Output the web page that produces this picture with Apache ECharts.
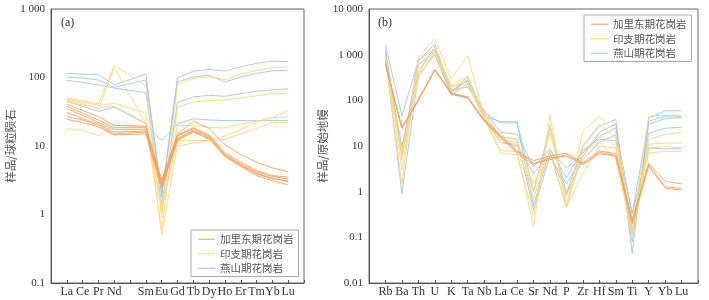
<!DOCTYPE html>
<html><head><meta charset="utf-8">
<script src="https://cdn.jsdelivr.net/npm/echarts/dist/echarts.min.js"></script>
<style>html,body{margin:0;padding:0;background:#fff}#c{width:709px;height:300px}</style>
</head><body><div id="c"></div><script>
// ---------- Categories ----------
var reeElems = ['La','Ce','Pr','Nd','Pm','Sm','Eu','Gd','Tb','Dy','Ho','Er','Tm','Yb','Lu'];
var traceElems = ['Rb','Ba','Th','U','K','Ta','Nb','La','Ce','Sr','Nd','P','Zr','Hf','Sm','Ti','Y','Yb','Lu'];
var groupNames = ['加里东期花岗岩','印支期花岗岩','燕山期花岗岩'];
var yTicksA = [0.1, 1, 10, 100, 1000];
var yTicksB = [0.01, 0.1, 1, 10, 100, 1000, 10000];

// ---------- (a) chondrite-normalised REE ----------
var calREE1 = [41, 33, 27, 20, null, 19.5, 3.2, 15, 23, 18, 10.5, 7.5, 5.8, 4.8, 4.2];
var calREE2 = [38, 30, 24, 18.5, null, 18.5, 3.0, 14.5, 18.5, 14.5, 8.0, 5.8, 4.4, 3.7, 3.5];
var calREE3 = [35, 28, 22, 17.5, null, 17.5, 2.8, 14, 18, 14, 7.6, 5.5, 4.2, 3.6, 3.3];
var calREE4 = [31, 25, 21, 16, null, 16.5, 2.6, 13, 17, 13.5, 7.3, 5.3, 4.0, 3.4, 3.0];
var calREE5 = [24.5, 22, 19, 14.5, null, 15, 2.4, 12.5, 16.5, 13, 7.0, 5.0, 3.7, 3.1, 2.7];
var calREE6 = [27, 24, 20, 15, null, 16, 2.5, 12, 16, 12.5, 7.2, 5.2, 3.9, 3.3, 3.1];

var indREE1 = [50, 46, 41, 152, null, 75, 0.9, 80, 97, 102, 93, 112, 126, 140, 143];
var indREE2 = [47, 42, 34, 140, null, 21, 0.6, 37, 44, 46, 47, 50, 54, 58, 59];
var indREE3 = [44, 40, 36, 38, null, 22, 1.1, 20, 19.8, 18.7, 18.3, 21, 23, 26, 26.5];
var indREE4 = [17.8, 17, 14, 20, null, 19, 1.3, 12, 12, 12, 14, 17.5, 22, 26, 33];
var indREE5 = [48, 44, 39, 42, null, 30, 0.5, 10, 11, 12, 12.5, 15, 18, 22, 22];

var yanREE1 = [115, 112, 110, 78, null, 112, 2.0, 99, 124, 131, 124, 143, 161, 174, 170];
var yanREE2 = [102, 98, 92, 72, null, 92, 1.8, 86, 102, 108, 86, 102, 115, 125, 128];
var yanREE3 = [91, 85, 78, 70, null, 60, 1.4, 43, 52, 55, 53, 58, 63, 66, 68];
var yanREE4 = [45, 38, 32, 37, null, 21, 12, 21, 25, 24, 23.5, 23.5, 23.5, 23.5, 23.5];

// ---------- (b) primitive-mantle-normalised trace elements ----------
var calTr1 = [620, 25, 100, 470, 140, 115, 38, 17.5, 8.0, 4.2, 5.0, 6.5, 3.9, 7.2, 6.2, 0.22, 4.2, 1.7, 1.48];
var calTr2 = [650, 24, 105, 480, 145, 118, 36, 16, 7.5, 4.8, 6.0, 7.0, 4.3, 7.8, 6.8, 0.25, 3.9, 1.28, 1.17];
var calTr3 = [600, 26, 98, 460, 135, 112, 35, 15, 7.0, 3.9, 5.5, 6.0, 4.0, 6.8, 6.0, 0.2, 3.6, 1.2, 1.08];

var indTr1 = [850, 1.5, 860, 2200, 300, 950, 45, 8, 7.5, 0.17, 48, 0.46, 21, 45, 20, 0.14, 45, 47, 47];
var indTr2 = [1000, 5, 400, 1500, 200, 250, 40, 7, 6.5, 0.3, 30, 0.5, 10, 30, 15, 0.15, 14, 18, 20];
var indTr3 = [700, 8, 300, 1200, 180, 300, 50, 16, 14, 1.0, 20, 0.8, 6, 18, 10, 0.09, 11, 11.6, 11.6];
var indTr4 = [900, 3, 500, 1000, 160, 200, 55, 14, 12, 1.5, 7, 0.46, 2.5, 10, 9, 0.2, 7, 7.6, 7.6];
var indTr5 = [800, 7, 600, 1100, 210, 350, 45, 12, 11, 0.7, 8, 0.46, 8, 12, 5.0, 0.13, 9, 9.8, 9];

var yanTr1 = [1680, 45, 740, 1700, 150, 330, 45, 34, 34, 1.0, 26, 0.92, 9.8, 27, 38, 0.045, 40, 59, 59];
var yanTr2 = [1130, 8, 780, 1300, 160, 270, 55, 32, 32, 0.5, 8, 3.3, 7, 16, 25, 0.33, 35, 45, 45];
var yanTr3 = [950, 0.92, 350, 1000, 130, 230, 40, 12, 10, 2.5, 7, 0.92, 5, 12, 17.6, 0.12, 19, 24.5, 25.7];
var yanTr4 = [800, 10, 400, 1500, 170, 195, 60, 20, 18, 3.5, 8.5, 2, 8, 14, 13, 0.33, 9, 8.7, 8.7];
var yanTr5 = [1350, 6, 600, 1200, 145, 280, 50, 16, 14, 0.4, 6, 1.5, 6, 20, 30, 0.08, 30, 40, 42];

var groupColors = ['rgba(245,160,92,0.88)', 'rgba(253,214,122,0.9)', 'rgba(160,198,232,0.9)'];

var panelA = [[calREE1,calREE2,calREE3,calREE4,calREE5,calREE6],[indREE1,indREE2,indREE3,indREE4,indREE5],[yanREE1,yanREE2,yanREE3,yanREE4]];
var panelB = [[calTr1,calTr2,calTr3],[indTr1,indTr2,indTr3,indTr4,indTr5],[yanTr1,yanTr2,yanTr3,yanTr4,yanTr5]];

function pad(arr){ return [null].concat(arr).concat([null]); }
var serif = 'Liberation Serif, Times New Roman, serif';
var cjk = 'Noto Sans CJK SC';

function fmt(v){
  var s = String(+v.toPrecision(6));
  if (v >= 1000) s = s.replace(/\B(?=(\d{3})+(?!\d))/g, ' ');
  return s;
}

var series = [];
[panelA, panelB].forEach(function(panel, pi){
  [0,1,2].forEach(function(g){
    panel[g].forEach(function(vals){
      series.push({
        type:'line', name: groupNames[g], xAxisIndex: pi, yAxisIndex: pi,
        data: pad(vals), connectNulls: true, symbol:'none', showSymbol:false, silent:true,
        z: 3 - g,
        lineStyle:{color: groupColors[g], width: 1},
        itemStyle:{color: groupColors[g]}
      });
    });
  });
});

function xAx(cats, gi, hide){
  return {
    type:'category', gridIndex: gi, boundaryGap:false,
    data: [''].concat(cats).concat([' ']),
    axisLine:{lineStyle:{color:'#555', width:1}},
    axisTick:{inside:true, length:3, interval:0, lineStyle:{color:'#555'}},
    axisLabel:{interval:0, margin:3, fontSize:12, fontFamily:serif, color:'#333',
      formatter:function(v){ return hide.indexOf(v) >= 0 ? '' : v; }},
    splitLine:{show:false}
  };
}
function yAx(gi, mn, mx, name, gap){
  return {
    type:'log', logBase:10, gridIndex: gi, min: mn, max: mx,
    name: name, nameLocation:'middle', nameGap: gap,
    nameTextStyle:{fontFamily:cjk, fontSize:11.5, color:'#555'},
    axisLine:{show:true, lineStyle:{color:'#555', width:1}},
    axisTick:{inside:true, length:3, lineStyle:{color:'#555'}},
    axisLabel:{margin:6, fontSize:11, fontFamily:serif, color:'#333', formatter: fmt},
    splitLine:{show:false}, minorTick:{show:false}
  };
}

var legendData = groupNames.map(function(n, i){
  return {name:n, icon:'rect', itemStyle:{color: groupColors[i]}};
});
var legendCommon = {
  orient:'vertical', data: legendData, itemWidth:17, itemHeight:1.2, itemGap:4,
  textStyle:{fontFamily:cjk, fontSize:10.5, color:'#555'},
  borderColor:'#aaa', borderWidth:1, backgroundColor:'#fff',
  padding:[4,5,3,7], selectedMode:false
};

var chart = echarts.init(document.getElementById('c'), null, {renderer:'canvas'});
chart.setOption({
  animation:false,
  backgroundColor:'#fff',
  title:[
    {text:'(a)', left:56, top:12, textStyle:{fontSize:12, fontWeight:'normal', fontFamily:serif, color:'#333'}},
    {text:'(b)', left:373, top:12, textStyle:{fontSize:12, fontWeight:'normal', fontFamily:serif, color:'#333'}}
  ],
  grid:[
    {left:51, top:9, width:253, height:274, show:true, borderColor:'#666', borderWidth:1, backgroundColor:'transparent'},
    {left:369, top:9, width:329, height:274, show:true, borderColor:'#666', borderWidth:1, backgroundColor:'transparent'}
  ],
  xAxis:[ xAx(reeElems, 0, ['Pm']), xAx(traceElems, 1, []) ],
  yAxis:[ yAx(0, yTicksA[0], yTicksA[yTicksA.length-1], '样品/球粒陨石', 33),
          yAx(1, yTicksB[0], yTicksB[yTicksB.length-1], '样品/原始地幔', 35) ],
  legend:[
    Object.assign({left:191, top:230}, legendCommon),
    Object.assign({left:584, top:15}, legendCommon)
  ],
  series: series
});
</script></body></html>
